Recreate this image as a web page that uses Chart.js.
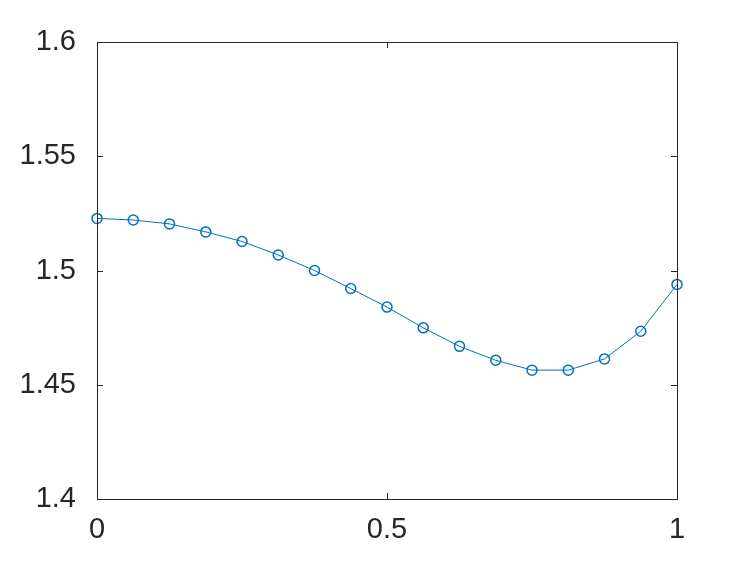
<!DOCTYPE html>
<html lang="en">
<head>
    <meta charset="UTF-8">
    <title>Line with markers</title>
    <script src="https://cdn.jsdelivr.net/npm/chart.js@4.4.0/dist/chart.umd.min.js"></script>
    <style>
        html, body { margin: 0; padding: 0; background: #fff; }
        #wrap { width: 747px; height: 561px; }
    </style>
</head>
<body>
    <div id="wrap"><canvas id="myChart" width="747" height="561"></canvas></div>

    <script>
        // data
        const xValues = [0, 0.0625, 0.125, 0.1875, 0.25, 0.3125, 0.375, 0.4375, 0.5,
                         0.5625, 0.625, 0.6875, 0.75, 0.8125, 0.875, 0.9375, 1];
        const yValues = [1.5228, 1.5221, 1.5204, 1.5169, 1.5127, 1.5068, 1.5000, 1.4921, 1.4840,
                         1.4749, 1.4668, 1.4607, 1.4564, 1.4564, 1.4613, 1.4734, 1.4939];
        const xTicks = [0, 0.5, 1];
        const yTicks = [1.4, 1.45, 1.5, 1.55, 1.6];

        const axisColor = '#262626';
        const lineColor = '#0072BD';

        // box around the plot with short inward ticks (matlab style)
        const boxPlugin = {
            id: 'box',
            afterDraw(chart) {
                const { ctx, chartArea: a, scales } = chart;
                ctx.save();
                ctx.strokeStyle = axisColor;
                ctx.lineWidth = 1;
                ctx.strokeRect(Math.round(a.left) + 0.5, Math.round(a.top) + 0.5,
                               Math.round(a.right - a.left), Math.round(a.bottom - a.top));
                const len = 6;
                ctx.beginPath();
                yTicks.forEach(v => {
                    const y = Math.round(scales.y.getPixelForValue(v)) + 0.5;
                    ctx.moveTo(a.left, y); ctx.lineTo(a.left + len, y);
                    ctx.moveTo(a.right, y); ctx.lineTo(a.right - len, y);
                });
                xTicks.forEach(v => {
                    const x = Math.round(scales.x.getPixelForValue(v)) + 0.5;
                    ctx.moveTo(x, a.bottom); ctx.lineTo(x, a.bottom - len);
                    ctx.moveTo(x, a.top); ctx.lineTo(x, a.top + len);
                });
                ctx.stroke();
                ctx.restore();
            }
        };

        const ctx = document.getElementById('myChart').getContext('2d');

        new Chart(ctx, {
            type: 'line',
            data: {
                datasets: [{
                    data: xValues.map((x, i) => ({ x: x, y: yValues[i] })),
                    borderColor: lineColor,
                    borderWidth: 1,
                    backgroundColor: 'transparent',
                    pointStyle: 'circle',
                    pointRadius: 5,
                    pointBorderWidth: 1.5,
                    pointBorderColor: lineColor,
                    pointBackgroundColor: 'transparent',
                    tension: 0,
                    fill: false,
                    clip: false
                }]
            },
            plugins: [boxPlugin],
            options: {
                responsive: false,
                animation: false,
                layout: {
                    padding: { left: 0, top: 42, right: 70, bottom: 0 }
                },
                scales: {
                    x: {
                        type: 'linear',
                        min: 0,
                        max: 1,
                        afterBuildTicks: s => { s.ticks = xTicks.map(v => ({ value: v })); },
                        afterFit: s => { s.height = 62; },
                        grid: { display: false, drawTicks: false },
                        border: { display: false },
                        ticks: {
                            color: axisColor,
                            padding: 14,
                            maxRotation: 0,
                            font: { family: 'Liberation Sans', size: 29 },
                            callback: v => String(v)
                        }
                    },
                    y: {
                        min: 1.4,
                        max: 1.6,
                        afterBuildTicks: s => { s.ticks = yTicks.map(v => ({ value: v })); },
                        afterFit: s => { s.width = 97; },
                        grid: { display: false, drawTicks: false },
                        border: { display: false },
                        ticks: {
                            color: axisColor,
                            padding: 21,
                            font: { family: 'Liberation Sans', size: 29 },
                            callback: v => String(+v.toFixed(2))
                        }
                    }
                },
                plugins: {
                    legend: { display: false },
                    tooltip: { enabled: false }
                }
            }
        });
    </script>
</body>
</html>
